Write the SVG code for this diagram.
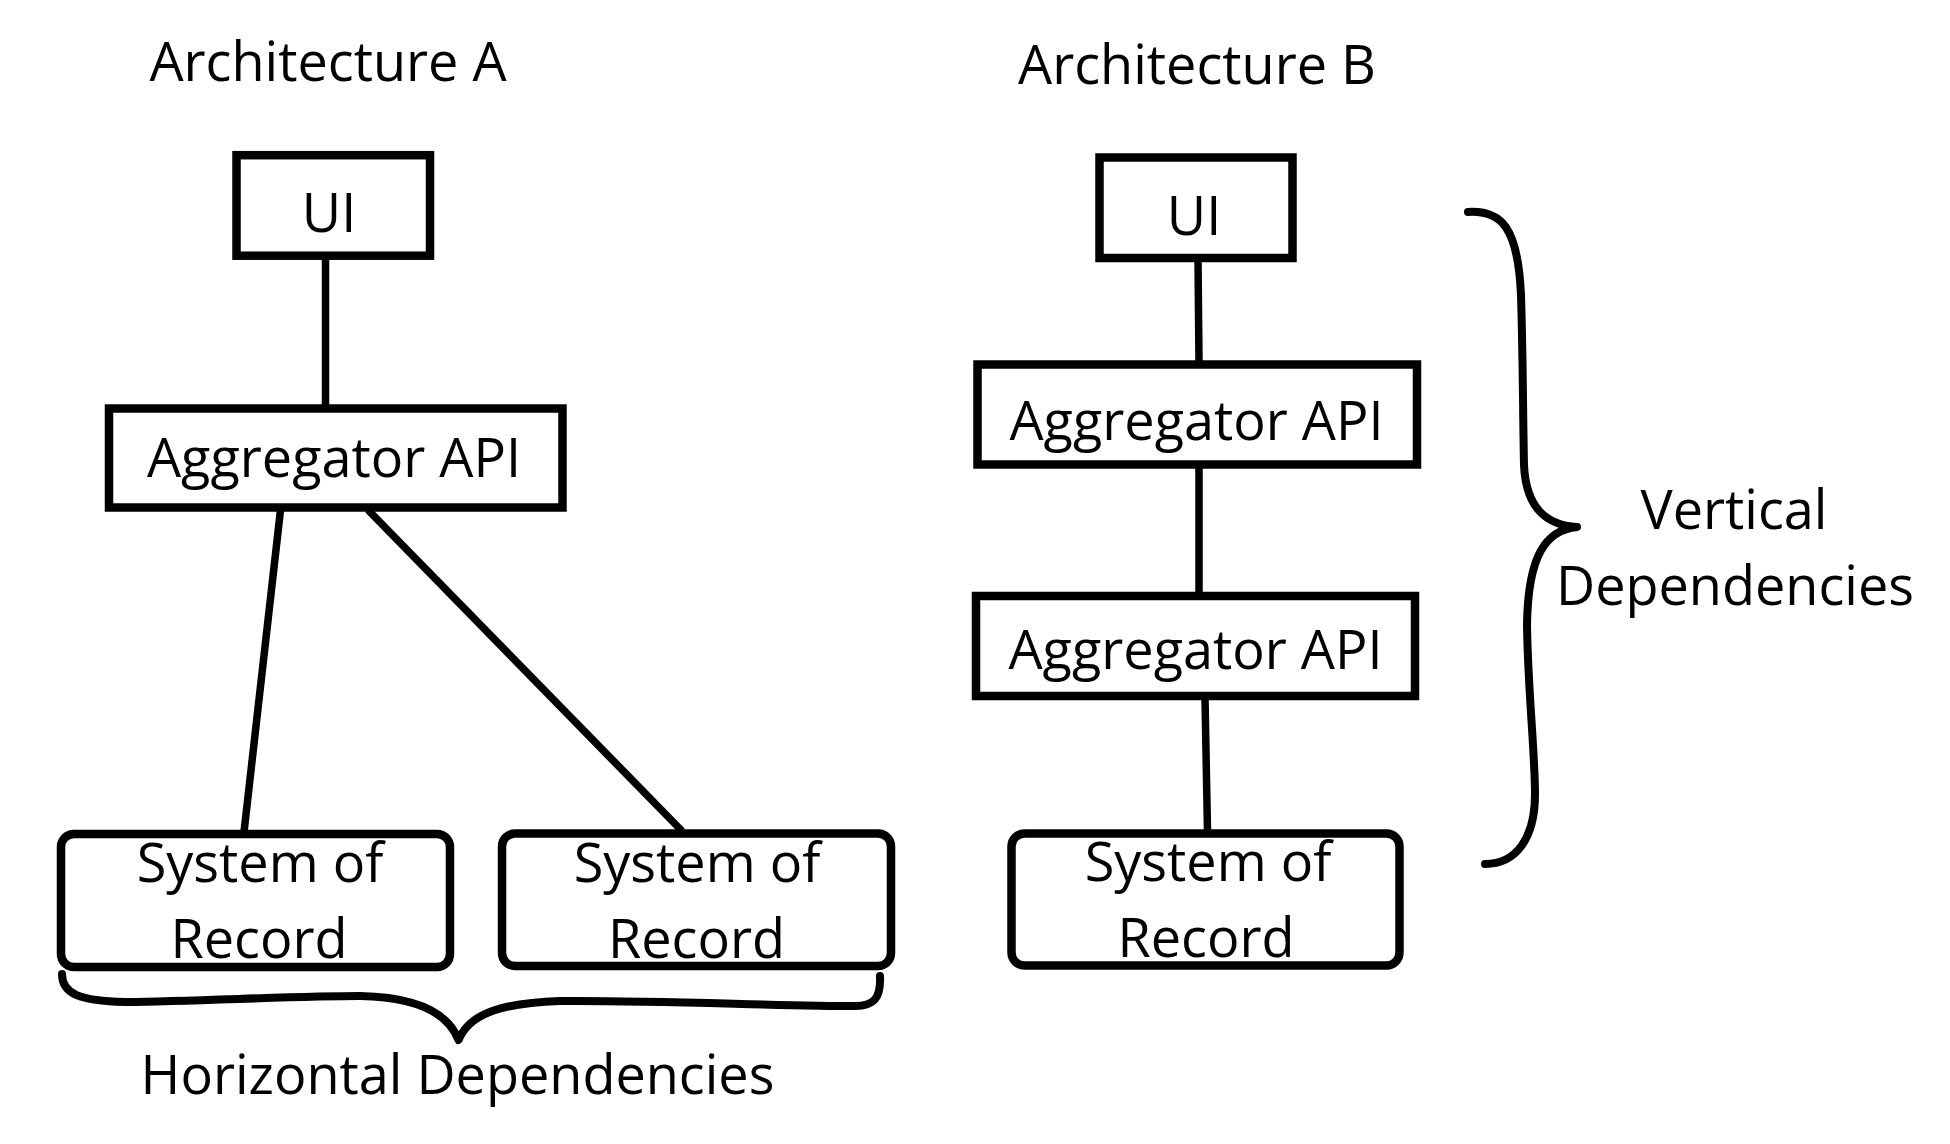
<svg xmlns="http://www.w3.org/2000/svg" width="1950" height="1144" viewBox="0 0 1950 1144">
<style>
.box{fill:#fff;stroke:#000;stroke-width:8.5}
.con{stroke:#000;stroke-width:7.5;fill:none;stroke-linecap:butt}
.brace{stroke:#000;stroke-width:8;fill:none;stroke-linecap:round;stroke-linejoin:round}
text{font-family:"Open Sans","Noto Sans","DejaVu Sans",sans-serif;font-size:54px;fill:#000;text-anchor:middle}
</style>
<rect width="1950" height="1144" fill="#fff"/>
<g id="connectors">
<line class="con" x1="325.5" y1="258" x2="325.5" y2="406"/>
<line class="con" x1="280.5" y1="510" x2="244" y2="832"/>
<line class="con" x1="368" y1="510" x2="682" y2="831"/>
<line class="con" x1="1198" y1="260" x2="1199" y2="362"/>
<line class="con" x1="1199" y1="467" x2="1199" y2="594"/>
<line class="con" x1="1205" y1="698" x2="1207.5" y2="831"/>
</g>
<g id="title-a"><text x="328" y="81">Architecture A</text></g>
<g id="title-b"><text x="1197" y="84">Architecture B</text></g>
<g id="ui-a"><rect class="box" x="236.5" y="155.2" width="193.5" height="100.5"/><text x="329" y="232">UI</text></g>
<g id="agg-a"><rect class="box" x="109" y="408.5" width="453.5" height="99"/><text x="334" y="477">Aggregator API</text></g>
<g id="sor-a1"><rect class="box" x="61" y="834" width="389" height="133" rx="13"/><text x="260" y="882">System of</text><text x="259" y="957.6">Record</text></g>
<g id="sor-a2"><rect class="box" x="502" y="833.5" width="389" height="132.5" rx="13"/><text x="697" y="882">System of</text><text x="696.5" y="957.6">Record</text></g>
<g id="ui-b"><rect class="box" x="1099.5" y="157.5" width="193" height="100.5"/><text x="1194" y="235">UI</text></g>
<g id="agg-b1"><rect class="box" x="977.5" y="364.5" width="439.5" height="100"/><text x="1196.5" y="439.5">Aggregator API</text></g>
<g id="agg-b2"><rect class="box" x="976" y="596" width="439" height="100"/><text x="1195.5" y="668.7">Aggregator API</text></g>
<g id="sor-b"><rect class="box" x="1011.5" y="833.5" width="388" height="132" rx="13"/><text x="1208" y="881">System of</text><text x="1206" y="957">Record</text></g>
<g id="brace-h">
<path class="brace" d="M62,974 C62,994 80,1001 125,1002 C200,1001 300,996 360,996 C410,997 447,1010 458.5,1040 C470,1012 505,1003 560,1001 C650,1000 780,1006 855,1006 C874,1006 881,998 880,976"/>
<text x="457.5" y="1093.7">Horizontal Dependencies</text>
</g>
<g id="brace-v">
<path class="brace" d="M1468,212 C1502,210 1518,228 1521,295 C1523,360 1523,420 1524,465 C1526,508 1546,525 1577,527 C1546,530 1528,555 1527,625 C1528,690 1534,740 1535,790 C1536,840 1515,864 1485,864"/>
<text x="1734" y="529">Vertical</text>
<text x="1735" y="604.8">Dependencies</text>
</g>
</svg>
